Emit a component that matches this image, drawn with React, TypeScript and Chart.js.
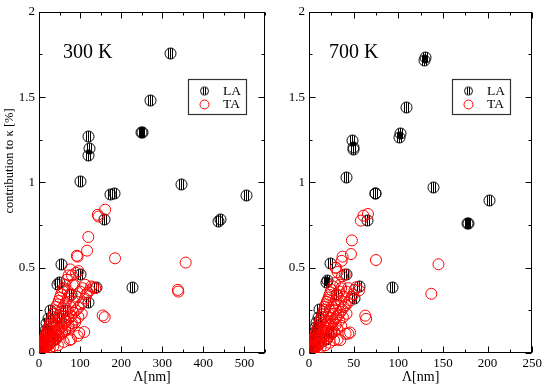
import React, { useEffect, useRef } from "react";
import { Chart, registerables } from "chart.js";

Chart.register(...registerables);

const FONT = "'Liberation Serif', 'Times New Roman', serif";

// ---- 300 K panel data (Λ in nm, contribution in %) ----
const la300: [number, number][] = [
  [320, 1.755], [272, 1.48], [249, 1.29], [251, 1.295], [121, 1.27], [122, 1.2], [120, 1.16],
  [101, 1.007], [173, 0.93], [184, 0.935], [346, 0.99], [506, 0.926], [437, 0.772], [441, 0.782],
  [160, 0.78], [55, 0.52], [49, 0.415], [46, 0.4], [228, 0.382], [139, 0.386], [100, 0.46],
  [78, 0.344], [120, 0.296], [29, 0.25], [22, 0.2], [18, 0.17], [15, 0.13], [12, 0.1], [9, 0.07],
  [6, 0.05], [4, 0.03], [2, 0.01], [30, 0.12], [50, 0.2], [65, 0.25], [40, 0.08],
];

const ta300: [number, number][] = [
  [2, 0.015], [4, 0.025], [6, 0.04], [8, 0.05], [10, 0.065], [12, 0.075], [14, 0.09], [16, 0.1],
  [18, 0.115], [20, 0.13], [22, 0.14], [24, 0.155], [26, 0.165], [28, 0.18], [30, 0.19], [33, 0.21],
  [36, 0.23], [39, 0.25], [42, 0.27], [45, 0.285], [48, 0.305], [51, 0.325], [54, 0.345], [57, 0.365],
  [60, 0.38], [64, 0.4], [68, 0.43], [72, 0.455], [76, 0.49], [80, 0.455], [90, 0.47], [96, 0.48],
  [92, 0.57], [94, 0.565],
  [5, 0.025], [9, 0.04], [13, 0.06], [17, 0.08], [21, 0.095], [25, 0.115], [29, 0.13], [33, 0.15],
  [37, 0.17], [41, 0.185], [45, 0.205], [49, 0.22], [53, 0.24], [57, 0.26], [61, 0.275], [65, 0.295],
  [70, 0.32], [75, 0.34], [82, 0.4], [86, 0.4], [70, 0.363],
  [12, 0.045], [20, 0.07], [28, 0.1], [36, 0.13], [44, 0.16], [52, 0.19], [60, 0.215], [68, 0.245],
  [76, 0.27], [84, 0.3], [92, 0.33], [100, 0.36], [106, 0.38], [112, 0.4],
  [6, 0.02], [10, 0.03], [14, 0.04], [18, 0.05], [22, 0.065], [26, 0.075], [30, 0.085], [34, 0.095],
  [38, 0.105], [42, 0.12], [46, 0.13], [50, 0.14], [55, 0.155], [60, 0.17], [66, 0.185], [72, 0.2],
  [78, 0.215], [84, 0.235], [90, 0.25], [96, 0.265], [102, 0.285], [107, 0.296], [112, 0.32],
  [115, 0.344], [119, 0.355], [123, 0.367], [127, 0.39], [132, 0.385], [137, 0.38],
  [16, 0.035], [24, 0.053], [32, 0.07], [40, 0.088], [48, 0.105], [56, 0.125], [64, 0.14], [72, 0.16],
  [80, 0.175], [88, 0.195], [96, 0.21], [104, 0.23],
  [8, 0.015], [14, 0.028], [20, 0.04], [27, 0.055], [34, 0.07], [41, 0.085], [48, 0.1], [56, 0.115],
  [64, 0.13], [72, 0.145], [80, 0.16], [88, 0.18],
  [10, 0.01], [18, 0.02], [26, 0.03], [35, 0.04], [46, 0.045], [60, 0.065], [74, 0.075], [78, 0.08],
  [94, 0.1], [98, 0.117], [110, 0.123],
  [117, 0.6], [120, 0.68], [143, 0.81], [145, 0.8], [161, 0.84], [185, 0.555], [357, 0.53],
  [338, 0.37], [339, 0.36], [155, 0.22], [160, 0.21],
];

// ---- 700 K panel data ----
const la700: [number, number][] = [
  [130, 1.73], [129, 1.715], [109, 1.44], [102, 1.285], [101, 1.262], [49, 1.247], [50, 1.205],
  [50, 1.19], [42, 1.03], [74, 0.935], [75, 0.935], [139, 0.972], [202, 0.895], [177, 0.757],
  [179, 0.757], [66, 0.776], [24.5, 0.526], [20.8, 0.425], [19.7, 0.415], [94, 0.386], [57, 0.39],
  [42, 0.46], [31, 0.344], [51, 0.317], [12.3, 0.257], [10.6, 0.21], [8.9, 0.176], [7, 0.15],
  [6, 0.12], [5, 0.09], [4, 0.06], [3, 0.04], [2, 0.02], [25, 0.12], [20, 0.08],
];

const ta700: [number, number][] = [
  [1, 0.015], [2, 0.03], [3, 0.045], [4, 0.06], [5, 0.075], [6, 0.09], [7, 0.105], [8, 0.12],
  [9, 0.135], [10, 0.15], [11, 0.165], [12, 0.18], [13, 0.195], [14, 0.21], [15, 0.225], [16, 0.24],
  [17, 0.255], [18, 0.27], [19, 0.285], [20, 0.3], [21, 0.31], [22, 0.325], [23, 0.34], [24, 0.355],
  [25, 0.37], [27, 0.39], [29, 0.41], [30, 0.5], [32, 0.475], [37, 0.45], [40, 0.46],
  [2, 0.02], [4, 0.04], [6, 0.06], [8, 0.085], [10, 0.105], [12, 0.125], [14, 0.145], [16, 0.165],
  [18, 0.19], [20, 0.21], [22, 0.23], [24, 0.25], [26, 0.27], [28, 0.29], [30, 0.31], [32, 0.335],
  [34, 0.36], [36, 0.38], [35, 0.4],
  [3, 0.025], [6, 0.05], [9, 0.075], [12, 0.1], [15, 0.125], [18, 0.15], [21, 0.18], [24, 0.205],
  [27, 0.23], [30, 0.255], [33, 0.28], [36, 0.305], [39, 0.33], [42, 0.36], [44, 0.38],
  [3, 0.02], [5, 0.035], [7, 0.05], [9, 0.06], [11, 0.075], [13, 0.09], [15, 0.1], [17, 0.115],
  [19, 0.13], [21, 0.145], [23, 0.16], [25, 0.17], [27, 0.185], [29, 0.2], [31, 0.21], [33, 0.225],
  [35, 0.24], [37, 0.255], [39, 0.27], [41, 0.28], [44, 0.296], [46, 0.31], [48, 0.33], [49.5, 0.344],
  [51, 0.37], [53, 0.386], [56, 0.367],
  [6, 0.03], [10, 0.055], [14, 0.077], [18, 0.1], [22, 0.12], [26, 0.143], [30, 0.165], [34, 0.19],
  [38, 0.21], [42, 0.23],
  [4, 0.018], [7, 0.03], [10, 0.045], [13, 0.058], [16, 0.072], [19, 0.085], [22, 0.1], [25, 0.113],
  [28, 0.126], [32, 0.14], [36, 0.16],
  [5, 0.012], [9, 0.022], [13, 0.033], [18, 0.045], [23, 0.06], [28, 0.075], [32, 0.08], [35, 0.075],
  [41, 0.113], [44, 0.113], [46, 0.12],
  [66, 0.815], [61, 0.805], [58, 0.776], [48, 0.66], [47, 0.58], [75, 0.545], [145, 0.52],
  [137, 0.347], [63, 0.219], [64, 0.2], [37.6, 0.565], [36.5, 0.54], [30, 0.5],
];

const seriesNames = ["LA", "TA"];
const yTicks = [0, 0.5, 1, 1.5, 2];
const xTicks300 = [0, 100, 200, 300, 400, 500];
const xTicks700 = [0, 50, 100, 150, 200, 250];
const yTitle = "contribution to κ [%]";
const xTitle = "Λ[nm]";

// circle with vertical hatching, odd-sized so it can sit on half-pixel centres
function hatchedCircle(size: number, r: number, lines: number[]) {
  const c = document.createElement("canvas");
  c.width = size;
  c.height = size;
  const ctx = c.getContext("2d")!;
  const cx = size / 2;
  const cy = size / 2;
  ctx.strokeStyle = "#000";
  ctx.lineWidth = 1;
  ctx.beginPath();
  ctx.arc(cx, cy, r, 0, Math.PI * 2);
  ctx.stroke();
  ctx.save();
  ctx.beginPath();
  ctx.arc(cx, cy, r, 0, Math.PI * 2);
  ctx.clip();
  for (const dx of lines) {
    ctx.beginPath();
    ctx.moveTo(cx + dx, cy - r);
    ctx.lineTo(cx + dx, cy + r);
    ctx.stroke();
  }
  ctx.restore();
  return c;
}

type PanelCfg = {
  left: number;
  width: number;
  la: [number, number][];
  ta: [number, number][];
  xTicks: number[];
  xMax: number;
  xMinor: number;
  yAxisWidth: number;
  padRight: number;
  tempLabel: string;
  tempX: number;
  legendX: number;
  showYTitle: boolean;
};

function Panel(p: PanelCfg) {
  const ref = useRef<HTMLCanvasElement | null>(null);
  useEffect(() => {
    if (!ref.current) return;
    const dataImg = hatchedCircle(15, 5.5, [-2, 0, 2]);
    const legImg = hatchedCircle(11, 4, [-1, 1]);
    const xStep = p.xTicks[1] - p.xTicks[0];

    const decor = {
      id: "decor",
      afterDatasetsUpdate(chart: any) {
        // snap hatched markers to half-pixel centres so the stripes stay crisp
        const meta = chart.getDatasetMeta(0);
        for (const el of meta.data) {
          el.x = Math.round(el.x - 0.5) + 0.5;
          el.y = Math.round(el.y - 0.5) + 0.5;
        }
      },
      beforeDatasetsDraw(chart: any) {
        const { ctx, chartArea: a, scales } = chart;
        const x = scales.x;
        const y = scales.y;
        ctx.save();
        ctx.strokeStyle = "#000";
        ctx.lineWidth = 1;
        const L = Math.round(a.left) + 0.5;
        const R = Math.round(a.right) - 0.5;
        const T = Math.round(a.top) + 0.5;
        const B = Math.round(a.bottom) - 0.5;
        ctx.beginPath();
        for (let v = 0; v <= p.xMax + 1e-9; v += p.xMinor) {
          const major = Math.abs(v / xStep - Math.round(v / xStep)) < 1e-9;
          const len = major ? 6 : 3;
          const px = Math.round(x.getPixelForValue(v)) + 0.5;
          ctx.moveTo(px, B);
          ctx.lineTo(px, B - len);
          ctx.moveTo(px, T);
          ctx.lineTo(px, T + len);
        }
        for (let v = 0; v <= 2 + 1e-9; v += 0.25) {
          const major = Math.abs(v / 0.5 - Math.round(v / 0.5)) < 1e-9;
          const len = major ? 6 : 3;
          const py = Math.round(y.getPixelForValue(v)) + 0.5;
          ctx.moveTo(L, py);
          ctx.lineTo(L + len, py);
          ctx.moveTo(R, py);
          ctx.lineTo(R - len, py);
        }
        ctx.stroke();
        ctx.strokeRect(L, T, R - L, B - T);
        ctx.restore();
      },
      afterDraw(chart: any) {
        const { ctx } = chart;
        ctx.save();
        ctx.fillStyle = "#000";
        ctx.font = `20px ${FONT}`;
        ctx.textAlign = "left";
        ctx.textBaseline = "alphabetic";
        ctx.fillText(p.tempLabel, p.tempX, 58);
        const bx = p.legendX;
        const by = 79.5;
        ctx.strokeStyle = "#333";
        ctx.lineWidth = 1.2;
        ctx.strokeRect(bx + 0.5, by, 58, 35);
        ctx.drawImage(legImg, bx + 11, by + 6);
        ctx.strokeStyle = "#ff0000";
        ctx.lineWidth = 1;
        ctx.beginPath();
        ctx.arc(bx + 16.5, by + 25, 4.5, 0, Math.PI * 2);
        ctx.stroke();
        ctx.fillStyle = "#000";
        ctx.font = `13.5px ${FONT}`;
        ctx.textBaseline = "middle";
        ctx.fillText(seriesNames[0], bx + 35, by + 11.5);
        ctx.fillText(seriesNames[1], bx + 35, by + 25);
        if (p.showYTitle) {
          ctx.translate(10, 161);
          ctx.rotate(-Math.PI / 2);
          ctx.textAlign = "center";
          ctx.font = `12.5px ${FONT}`;
          ctx.fillText(yTitle, 0, 0);
        }
        ctx.restore();
      },
    };

    const chart = new Chart(ref.current, {
      type: "scatter",
      data: {
        datasets: [
          {
            label: seriesNames[0],
            data: p.la.map(([x, y]) => ({ x, y })),
            pointStyle: dataImg as any,
            pointRadius: 5.5,
            order: 1,
          },
          {
            label: seriesNames[1],
            data: p.ta.map(([x, y]) => ({ x, y })),
            pointStyle: "circle",
            pointRadius: 5.5,
            borderColor: "#ff0000",
            backgroundColor: "rgba(0,0,0,0)",
            borderWidth: 1,
            order: 0,
          },
        ],
      },
      options: {
        responsive: false,
        animation: false,
        devicePixelRatio: 1,
        layout: { padding: { top: 6, right: p.padRight, left: 0, bottom: 0 } },
        plugins: { legend: { display: false }, tooltip: { enabled: false } },
        scales: {
          x: {
            type: "linear",
            min: 0,
            max: p.xMax,
            grid: { display: false, drawTicks: false },
            border: { display: false },
            ticks: {
              color: "#000",
              font: { family: FONT, size: 13 },
              padding: 3,
              maxRotation: 0,
              autoSkip: false,
            },
            afterBuildTicks: (s: any) => {
              s.ticks = p.xTicks.map((v) => ({ value: v }));
            },
            afterFit: (s: any) => {
              s.height = 33;
            },
            title: {
              display: true,
              text: xTitle,
              color: "#000",
              font: { family: FONT, size: 14 },
              padding: { top: 0, bottom: 0 },
            },
          },
          y: {
            type: "linear",
            min: 0,
            max: 2,
            grid: { display: false, drawTicks: false },
            border: { display: false },
            ticks: {
              color: "#000",
              font: { family: FONT, size: 13 },
              padding: 4,
              callback: (v: any) => String(v),
            },
            afterBuildTicks: (s: any) => {
              s.ticks = yTicks.map((v) => ({ value: v }));
            },
            afterFit: (s: any) => {
              s.width = p.yAxisWidth;
            },
          },
        },
      },
      plugins: [decor],
    });
    return () => chart.destroy();
  }, []);
  return (
    <canvas
      ref={ref}
      width={p.width}
      height={386}
      style={{ position: "absolute", left: p.left, top: 0, width: p.width, height: 386, display: "block" }}
    />
  );
}

export default function App() {
  return (
    <div style={{ position: "absolute", left: 0, top: 0, width: 545, height: 386, background: "#fff" }}>
      <Panel
        left={0}
        width={272}
        la={la300}
        ta={ta300}
        xTicks={xTicks300}
        xMax={550}
        xMinor={50}
        yAxisWidth={39}
        padRight={7}
        tempLabel="300 K"
        tempX={63}
        legendX={188}
        showYTitle={true}
      />
      <Panel
        left={272}
        width={273}
        la={la700}
        ta={ta700}
        xTicks={xTicks700}
        xMax={250}
        xMinor={25}
        yAxisWidth={37}
        padRight={12}
        tempLabel="700 K"
        tempX={57}
        legendX={180}
        showYTitle={false}
      />
    </div>
  );
}
